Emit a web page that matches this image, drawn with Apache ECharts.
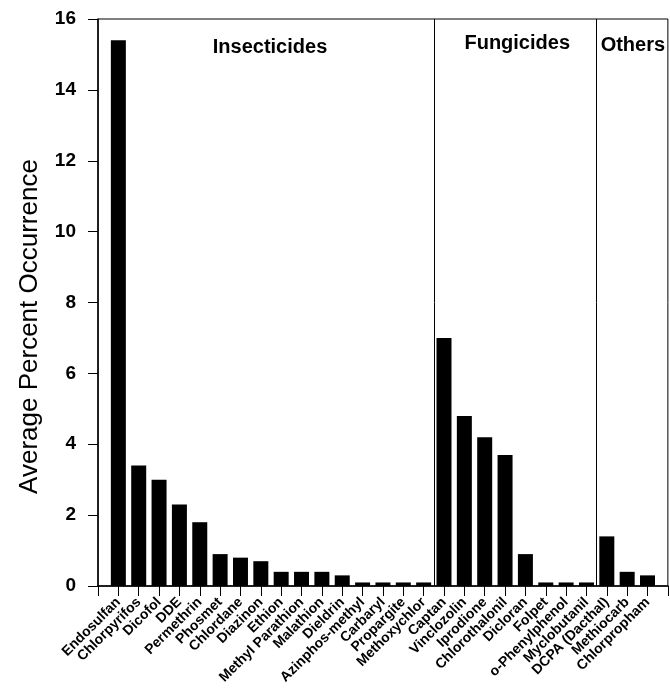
<!DOCTYPE html>
<html>
<head>
<meta charset="utf-8">
<script src="https://cdn.jsdelivr.net/npm/echarts@6/dist/echarts.min.js"></script>
<style>html,body{margin:0;padding:0;background:#fff;}#c{width:670px;height:692px;}</style>
</head>
<body>
<div id="c"></div>
<script>
var categories = ['Endosulfan','Chlorpyrifos','Dicofol','DDE','Permethrin','Phosmet','Chlordane','Diazinon','Ethion','Methyl Parathion','Malathion','Dieldrin','Azinphos-methyl','Carbaryl','Propargite','Methoxychlor','Captan','Vinclozolin','Iprodione','Chlorothalonil','Dicloran','Folpet','o-Phenylphenol','Myclobutanil','DCPA (Dacthal)','Methiocarb','Chlorpropham'];
var values = [15.4,3.4,3.0,2.3,1.8,0.9,0.8,0.7,0.4,0.4,0.4,0.3,0.1,0.1,0.1,0.1,7.0,4.8,4.2,3.7,0.9,0.1,0.1,0.1,1.4,0.4,0.3];
var groups = ['Insecticides','Fungicides','Others'];
var groupBounds = [0.5,16.5,24.5,28];
var yTicks = [0,2,4,6,8,10,12,14,16];

var font = 'Liberation Sans, Arial, Helvetica, sans-serif';
var chart = echarts.init(document.getElementById('c'), null, {renderer:'canvas'});
var barData = values.map(function(v,i){return [i+1, v];});
var option = {
  animation:false,
  backgroundColor:'#fff',
  grid:{left:98, width:575, top:19, bottom:106, show:true, borderColor:'#000', borderWidth:1},
  xAxis:{
    type:'value', min:0, max:28, interval:1,
    axisLine:{show:true, lineStyle:{color:'#000', width:1.5}},
    axisTick:{show:true, inside:false, length:10, lineStyle:{color:'#000'}},
    splitLine:{show:false},
    axisLabel:{
      rotate:45, margin:14, color:'#000', fontFamily:font, fontSize:14, fontWeight:'bold',
      showMinLabel:true, showMaxLabel:true,
      formatter:function(v){ return categories[v-1] || ''; }
    }
  },
  yAxis:{
    type:'value', min:0, max:16, interval:2,
    name:'Average Percent Occurrence', nameLocation:'middle', nameGap:55,
    nameTextStyle:{color:'#000', fontFamily:font, fontSize:26, padding:[0,48,0,0]},
    axisLine:{show:true, lineStyle:{color:'#000', width:1.5}},
    axisTick:{show:true, inside:false, length:10, lineStyle:{color:'#000'}},
    splitLine:{show:false},
    axisLabel:{color:'#000', fontFamily:font, fontSize:19, fontWeight:'bold', margin:22,
      formatter:function(v){ return yTicks.indexOf(v) >= 0 ? String(v) : ''; }}
  },
  series:[{
    type:'bar', data:barData, barWidth:15,
    itemStyle:{color:'#000'},
    markLine:{
      silent:true, symbol:'none', label:{show:false},
      lineStyle:{color:'#000', type:'solid', width:1},
      data:[{xAxis:groupBounds[1]},{xAxis:groupBounds[2]}]
    }
  }]
};
chart.setOption(option);

function placeGroups(){
  var els = [];
  var p0 = chart.convertToPixel({gridIndex:0}, [(groupBounds[0]+groupBounds[1])/2, 0]);
  var p1 = chart.convertToPixel({gridIndex:0}, [(groupBounds[1]+groupBounds[2])/2, 0]);
  var p2 = chart.convertToPixel({gridIndex:0}, [groupBounds[2], 0]);
  var f = 'bold 20px ' + font;
  els.push({type:'text', x:p0[0]-1, y:47, style:{text:groups[0], fill:'#000', font:f, align:'center', verticalAlign:'middle'}});
  els.push({type:'text', x:p1[0]+2, y:43, style:{text:groups[1], fill:'#000', font:f, align:'center', verticalAlign:'middle'}});
  els.push({type:'text', x:p2[0]+4, y:45, style:{text:groups[2], fill:'#000', font:f, align:'left', verticalAlign:'middle'}});
  chart.setOption({graphic:els});
}
placeGroups();
</script>
</body>
</html>
